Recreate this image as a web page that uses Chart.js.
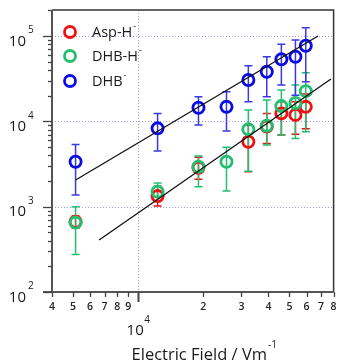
<!DOCTYPE html>
<html>
<head>
<meta charset="utf-8">
<script src="https://cdn.jsdelivr.net/npm/chart.js@4"></script>
<style>
html,body{margin:0;padding:0;background:#fff}
canvas{display:block}
</style>
</head>
<body>
<canvas id="C1" width="342" height="364"></canvas>
<script>
// field values (V/m) shared by all series
const fieldE = [5140, 12300, 19000, 25600, 32300, 39300, 45900, 53300, 59500];

// Asp-H- (red)
const aspY  = [665, 1330, 2860, null, 5770, 8700, 12400, 11900, 14800];
const aspHi = [776, 1740, 3800, null, 9000, 12400, 17000, 17000, 21000];
const aspLo = [557, 1017, 2090, null, 2570, 5520, 6920, 7050, 8200];

// DHB-H- (green)
const dhbhY  = [651, 1500, 2940, 3360, 8060, 8900, 15100, 16400, 22600];
const dhbhHi = [1000, 1900, 3920, 4960, 13600, 17800, 23300, 26700, 37100];
const dhbhLo = [276, 1150, 1710, 1525, 2600, 5270, 6900, 6300, 7550];

// DHB- (blue)
const dhbY  = [3360, 8280, 14450, 14800, 30500, 38200, 53300, 57200, 76900];
const dhbHi = [5370, 12400, 19400, 22250, 44900, 57200, 80000, 89700, 125000];
const dhbLo = [1370, 4490, 9060, 7700, 17000, 19400, 26700, 20300, 29100];

// fitted lines (end points)
const fitUpX = [5143, 67800], fitUpY = [2054, 100000];
const fitLoX = [6600, 77800], fitLoY = [407, 31300];

// axis ticks
const xMinorTicks = [4000,5000,6000,7000,8000,9000,20000,30000,40000,50000,60000,70000,80000];
const xMinorLabels = ['4','5','6','7','8','9','2','3','4','5','6','7','8'];
const xMajor = [10000];
const yMajor = [100, 1000, 10000, 100000];
const yExp = ['2','3','4','5'];

const RED='#ee1111', GREEN='#22bf70', BLUE='#0a0ae6';
const FONT='"Open Sans", "Noto Sans", sans-serif';

function pts(xs,ys){let out=[];xs.forEach((x,i)=>{if(ys[i]!=null)out.push({x:x,y:ys[i]})});return out}

const series=[
 {label:'Asp-H',y:aspY,hi:aspHi,lo:aspLo,col:RED,bar:RED},
 {label:'DHB-H',y:dhbhY,hi:dhbhHi,lo:dhbhLo,col:GREEN,bar:GREEN},
 {label:'DHB',y:dhbY,hi:dhbHi,lo:dhbLo,col:BLUE,bar:'#3a3ae0'}
];

const errorBars={
 id:'errorBars',
 beforeDatasetsDraw(chart){
  const c=chart.ctx,xs=chart.scales.x,ys=chart.scales.y;
  // dotted grid at majors
  c.save();
  c.strokeStyle='#9c9cea';c.lineWidth=1;c.setLineDash([1,2]);
  yMajor.forEach(v=>{const p=Math.round(ys.getPixelForValue(v))+0.5;if(v>100){c.beginPath();c.moveTo(chart.chartArea.left,p);c.lineTo(chart.chartArea.right,p);c.stroke()}});
  xMajor.forEach(v=>{const p=Math.round(xs.getPixelForValue(v))+0.5;c.beginPath();c.moveTo(p,chart.chartArea.top);c.lineTo(p,chart.chartArea.bottom);c.stroke()});
  c.restore();
  c.save();
  c.lineWidth=1.5;
  series.forEach(s=>{
   c.strokeStyle=s.bar;
   fieldE.forEach((x,i)=>{
    if(s.y[i]==null)return;
    const px=xs.getPixelForValue(x),t=ys.getPixelForValue(s.hi[i]),b=ys.getPixelForValue(s.lo[i]);
    c.beginPath();c.moveTo(px,t);c.lineTo(px,b);
    c.moveTo(px-4,t);c.lineTo(px+4,t);
    c.moveTo(px-4,b);c.lineTo(px+4,b);
    c.stroke();
   });
  });
  c.restore();
 }
};

const axesDraw={
 id:'axesDraw',
 afterDraw(chart){
  const c=chart.ctx,xs=chart.scales.x,ys=chart.scales.y,a=chart.chartArea;
  c.save();
  // frame
  c.strokeStyle='#333';c.lineWidth=1.5;
  c.beginPath();c.moveTo(a.left,a.top);c.lineTo(a.right,a.top);c.lineTo(a.right,a.bottom);c.stroke();
  c.strokeStyle='#555';c.lineWidth=2;
  c.beginPath();c.moveTo(a.left,a.top);c.lineTo(a.left,a.bottom);c.moveTo(a.left-9,a.bottom);c.lineTo(a.right,a.bottom);c.stroke();
  // y ticks
  c.lineWidth=1.3;c.strokeStyle='#444';
  for(let d=100;d<=100000;d*=10){
   for(let m=1;m<10;m++){
    const v=d*m;if(v>ys.max)break;
    const p=Math.round(ys.getPixelForValue(v))+0.5;
    c.beginPath();c.moveTo(a.left-(m==1?9:4),p);c.lineTo(a.left,p);c.stroke();
   }
  }
  // x ticks
  xMinorTicks.forEach(v=>{const p=Math.round(xs.getPixelForValue(v))+0.5;c.beginPath();c.moveTo(p,a.bottom);c.lineTo(p,a.bottom+5);c.stroke()});
  xMajor.forEach(v=>{const p=Math.round(xs.getPixelForValue(v))+0.5;c.lineWidth=2;c.beginPath();c.moveTo(p,a.bottom);c.lineTo(p,a.bottom+10);c.stroke()});
  // y labels
  c.fillStyle='#1a1a1a';c.textBaseline='middle';
  yMajor.forEach((v,i)=>{
   const p=ys.getPixelForValue(v);
   c.font='15px '+FONT;c.textAlign='right';c.fillText('10',26,p+5.5);
   c.font='10px '+FONT;c.textAlign='left';c.fillText(yExp[i],28,p-5.5);
  });
  // x labels
  c.font='600 10.5px '+FONT;c.textAlign='center';c.fillStyle='#222';
  xMinorTicks.forEach((v,i)=>{c.fillText(xMinorLabels[i],xs.getPixelForValue(v),a.bottom+15)});
  const p4=xs.getPixelForValue(10000);
  c.fillStyle='#1a1a1a';
  c.font='15px '+FONT;c.textAlign='center';c.fillText('10',p4-3,331);
  c.font='10px '+FONT;c.textAlign='left';c.fillText('4',p4+6,320);
  // axis title
  c.font='16.5px '+FONT;c.textAlign='right';c.fillText('Electric Field / Vm',267,355);
  c.font='10px '+FONT;c.textAlign='left';c.fillText('-1',268,345);
  // legend
  const ly=[32,56,81];
  series.forEach((s,i)=>{
   c.strokeStyle=s.col;c.lineWidth=2.8;
   c.beginPath();c.arc(70,ly[i],5.5,0,Math.PI*2);c.stroke();
   c.fillStyle='#1a1a1a';c.font='14.5px '+FONT;c.textAlign='left';
   c.fillText(s.label,92,ly[i]+1);
   const w=c.measureText(s.label).width;
   c.font='9px '+FONT;c.fillText('-',92+w+1,ly[i]-6);
  });
  c.restore();
 }
};

function LoadC1(){
 const ds=series.map((s,i)=>({
  label:s.label,data:pts(fieldE,s.y),
  borderColor:s.col,backgroundColor:'rgba(0,0,0,0)',
  pointRadius:5.6,pointBorderWidth:2.8,showLine:false,order:[3,2,1][i]
 }));
 ds.push({type:'line',data:pts(fitUpX,fitUpY),borderColor:'#111',borderWidth:1.3,pointRadius:0,order:0});
 ds.push({type:'line',data:pts(fitLoX,fitLoY),borderColor:'#111',borderWidth:1.3,pointRadius:0,order:0});
 new Chart(document.getElementById('C1'),{
  type:'scatter',
  data:{datasets:ds},
  options:{
   responsive:false,animation:false,devicePixelRatio:1,
   layout:{padding:{top:10,right:1,left:0,bottom:0}},
   scales:{
    x:{type:'logarithmic',position:'bottom',min:4000,max:80000,
     ticks:{display:false},grid:{display:false},border:{display:false},
     afterFit:s=>{s.height=72}},
    y:{type:'logarithmic',position:'left',min:100,max:202000,
     ticks:{display:false},grid:{display:false},border:{display:false},
     afterFit:s=>{s.width=52}}
   },
   plugins:{legend:{display:false},tooltip:{enabled:false}}
  },
  plugins:[errorBars,axesDraw]
 });
}
LoadC1();
</script>
</body>
</html>
